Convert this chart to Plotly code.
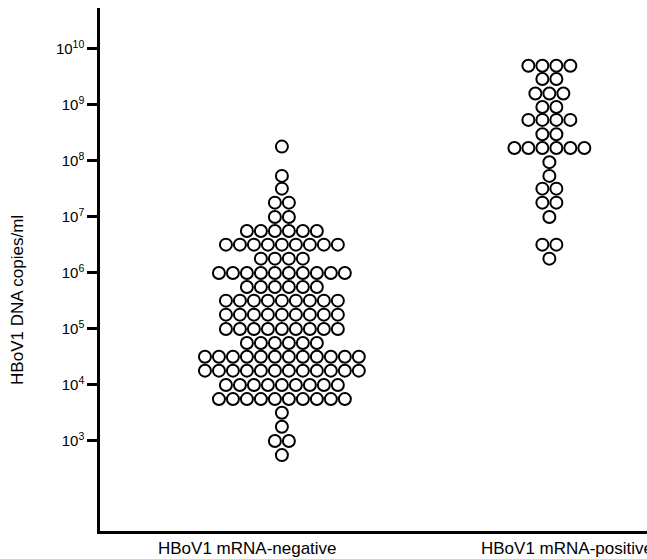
import plotly.graph_objects as go

# Viral load levels (copies/ml) and the number of patients at each level
neg_levels = [1.8e8, 5.4e7, 3.2e7, 1.8e7, 1.0e7, 5.6e6, 3.2e6, 1.8e6, 1.0e6, 5.6e5,
              3.2e5, 1.8e5, 1.0e5, 5.6e4, 3.2e4, 1.8e4, 1.0e4, 5.6e3, 3.2e3, 1.8e3,
              1.0e3, 5.6e2]
neg_counts = [1, 1, 1, 2, 2, 6, 9, 4, 10, 6,
              9, 9, 9, 6, 12, 12, 9, 10, 1, 1,
              2, 1]

pos_levels = [5.0e9, 2.9e9, 1.6e9, 9.2e8, 5.4e8, 3.0e8, 1.7e8, 9.5e7, 5.4e7, 3.2e7,
              1.8e7, 1.0e7, 3.2e6, 1.8e6]
pos_counts = [4, 2, 3, 2, 4, 2, 6, 1, 1, 2,
              2, 1, 2, 1]

group_names = ["HBoV1 mRNA-negative", "HBoV1 mRNA-positive"]
tick_exponents = [3, 4, 5, 6, 7, 8, 9, 10]
y_title = "HBoV1 DNA copies/ml"

FONT = "Arial, Liberation Sans, sans-serif"
STEP = 0.0523          # horizontal spacing between neighbouring dots
GROUP_X = [0.0, 1.0]   # dot-column centres
LABEL_X = [-0.127, 1.065]


def swarm(levels, counts, center):
    """Spread the dots of each level symmetrically around the column centre."""
    xs, ys = [], []
    for v, n in zip(levels, counts):
        for i in range(n):
            xs.append(center + (i - (n - 1) / 2) * STEP)
            ys.append(v)
    return xs, ys


fig = go.Figure()
for (levels, counts), cx, name in zip(
        [(neg_levels, neg_counts), (pos_levels, pos_counts)], GROUP_X, group_names):
    xs, ys = swarm(levels, counts, cx)
    fig.add_trace(go.Scatter(
        x=xs, y=ys, mode="markers", name=name, showlegend=False,
        marker=dict(symbol="circle-open", size=12, color="black",
                    line=dict(width=2, color="black")),
        hoverinfo="y",
    ))

# group labels under the x axis (annotations so the right one may run off the page)
annotations = [dict(
    text=name, x=lx, xref="x", y=0, yref="paper",
    xanchor="center", yanchor="top", yshift=-6, showarrow=False,
    font=dict(size=17, family=FONT, color="black"),
) for name, lx in zip(group_names, LABEL_X)]

annotations.append(dict(
    text=y_title, textangle=-90, showarrow=False,
    xref="paper", yref="paper", x=-0.15, y=0.4417,
    xanchor="center", yanchor="middle",
    font=dict(size=17, family=FONT, color="black"),
))

fig.update_layout(
    width=647, height=559,
    margin=dict(l=100, r=0, t=8, b=28),
    paper_bgcolor="white", plot_bgcolor="white",
    font=dict(family=FONT, color="black", size=16),
    xaxis=dict(
        range=[-0.680, 1.365], showgrid=False, zeroline=False,
        showline=True, linecolor="black", linewidth=2.5,
        ticks="", showticklabels=False,
    ),
    yaxis=dict(
        type="log", range=[1.393, 10.73], showgrid=False, zeroline=False,
        showline=True, linecolor="black", linewidth=2.5,
        ticks="outside", ticklen=10, tickwidth=2.5, tickcolor="black",
        tickvals=[10 ** e for e in tick_exponents],
        ticktext=[f"10<sup>{e}</sup>" for e in tick_exponents],
        tickfont=dict(size=15, family=FONT, color="black"),
    ),
    annotations=annotations,
)

fig.write_html("out.html")
